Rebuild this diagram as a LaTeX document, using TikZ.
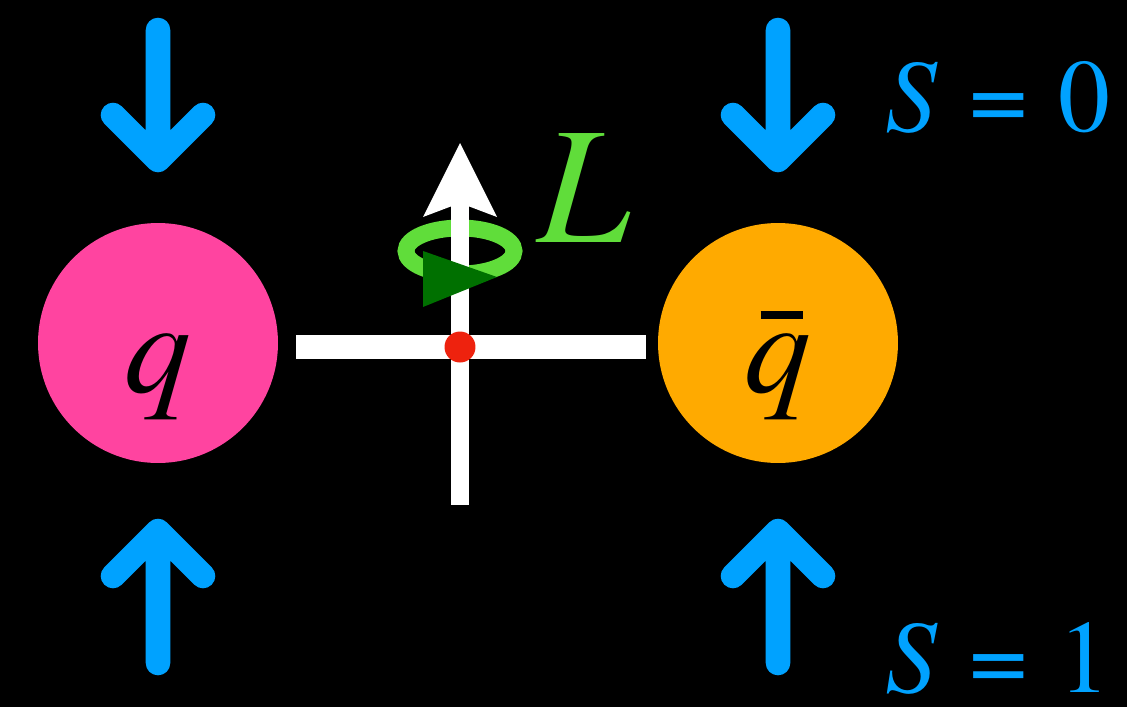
\documentclass[tikz,border=0pt]{standalone}
\usepackage{fontspec}
\setmainfont{texgyretermes}[Extension=.otf, UprightFont=*-regular, ItalicFont=*-italic, BoldFont=*-bold]
\usetikzlibrary{positioning}

\definecolor{quarkpink}{RGB}{255,68,160}
\definecolor{antiorange}{RGB}{255,170,0}
\definecolor{spinblue}{RGB}{0,162,255}
\definecolor{orbgreen}{RGB}{96,221,58}
\definecolor{darkorb}{RGB}{0,112,0}
\definecolor{dotred}{RGB}{238,34,14}
\newcommand{\qbarsym}{\rlap{\hspace{0.12em}\rule[0.55em]{0.32em}{0.06em}}\textit{q}}

\begin{document}
\begin{tikzpicture}[x=0.02cm, y=-0.02cm,
  spin/.style={spinblue, line width=14pt, line cap=round, line join=round},
  quark/.style={circle, minimum size=4.8cm, inner sep=0pt},
  big/.style={font=\fontsize{76}{80}\selectfont\itshape, anchor=base, inner sep=0pt},
  spinlab/.style={spinblue, font=\fontsize{59}{64}\selectfont, anchor=base west, inner sep=0pt, text depth=0pt}]
  \fill[black] (0,0) rectangle (1127,707);
  \node[quark, fill=quarkpink] (q) at (158,343) {};
  \node[quark, fill=antiorange] (qb) at (778,343) {};
  \node[big] (qlab) at (158,392) {q};
  \node[big] (qblab) at (778,392) {\qbarsym};
  % spins of the pair
  \foreach \x in {158,778} {
    \draw[spin] (\x,30) -- (\x,160) (\x-45,115) -- (\x,160) -- (\x+45,115);
    \draw[spin] (\x,663) -- (\x,531) (\x-45,576) -- (\x,531) -- (\x+45,576);
  }
  \node[spinlab] (s0) at (885,131) {\textit{S}\hspace{0.3em}=\hspace{0.3em}0};
  \node[spinlab] (s1) at (885,692) {\textit{S}\hspace{0.3em}=\hspace{0.3em}1};
  % orbital part
  \draw[orbgreen, line width=9.6pt] (460,251) ellipse (54 and 23);
  \fill[white] (296,335) rectangle (646,359);
  \fill[white] (451,200) rectangle (469,505);
  \fill[white] (460,143) -- (497,217) -- (460,203) -- (423,217) -- cycle;
  \fill[darkorb] (423,251) -- (497,277) -- (423,307) -- cycle;
  \node[circle, fill=dotred, minimum size=0.62cm, inner sep=0pt] (c) at (460,347) {};
  \node[orbgreen, font=\fontsize{95}{100}\selectfont\itshape, anchor=base, inner sep=0pt] (L) at (584,242) {L};
\end{tikzpicture}
\end{document}
